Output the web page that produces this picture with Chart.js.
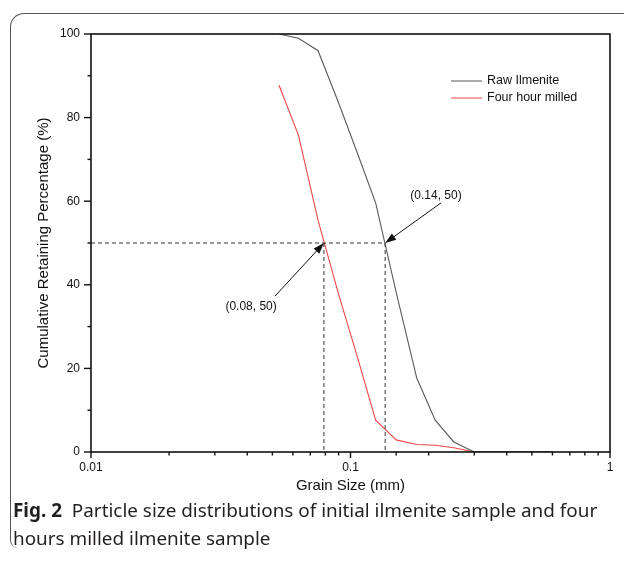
<!DOCTYPE html>
<html>
<head>
<meta charset="utf-8">
<script src="https://cdn.jsdelivr.net/npm/chart.js@4/dist/chart.umd.min.js"></script>
<style>
html, body { margin: 0; padding: 0; background: #fff; width: 624px; height: 561px; overflow: hidden; }
#wrap { position: relative; width: 624px; height: 561px; }
#frame { position: absolute; left: 10px; top: 13px; width: 660px; height: 534px;
         border-left: 1.5px solid #555; border-top: 1.5px solid #555; border-radius: 14px 0 0 8px; }
#chart { position: absolute; left: 0; top: 0; }
#caption { position: absolute; left: 13px; top: 496px; font-family: "Noto Sans", sans-serif;
           font-size: 18.9px; line-height: 28px; color: #231f20; white-space: nowrap; }
#caption b { font-weight: 700; }
</style>
</head>
<body>
<div id="wrap">
  <div id="frame"></div>
  <canvas id="chart" width="624" height="561"></canvas>
  <div id="caption"><b>Fig. 2</b>&nbsp; Particle size distributions of initial ilmenite sample and four<br>hours milled ilmenite sample</div>
</div>
<script>
// sieve openings (mm) and cumulative retained (%)
const sieveSizes = [0.053, 0.063, 0.075, 0.09, 0.106, 0.125, 0.15, 0.18, 0.212, 0.25, 0.3, 0.355, 0.425, 0.5, 0.6];
const rawIlmenite = [100, 99, 96, 83.5, 71.7, 59.6, 38.2, 17.7, 7.6, 2.4, 0, 0, 0, 0, 0];
const fourHourMilled = [87.8, 75.8, 55.4, 37.7, 23, 7.6, 2.9, 1.8, 1.6, 1.0, 0, 0, 0, 0, 0];
const seriesLabels = ["Raw Ilmenite", "Four hour milled"];
const seriesColors = ["#5a5a5a", "#f04848"];

// d50 reference points (grain size, percentage)
const d50Raw = [0.136, 50];
const d50Milled = [0.079, 50];
const d50Labels = ["(0.14, 50)", "(0.08, 50)"];

// axis ticks
const xTickLabels = [0.01, 0.1, 1];
const yTickLabels = [0, 20, 40, 60, 80, 100];

const toPoints = (xs, ys) => xs.map((x, i) => ({x: x, y: ys[i]}));

// dashed guide lines
const guideStyle = { borderColor: "#333", borderWidth: 1, borderDash: [4, 3], pointRadius: 0, showLine: true, fill: false };

/* ------------------------------------- extra marks: frame, ticks, legend, arrows ------------------------------------- */

function drawArrow (ctx, x0, y0, x1, y1) {
    const ang = Math.atan2(y1 - y0, x1 - x0), len = 11, half = 3.8;
    ctx.beginPath(); ctx.moveTo(x0, y0); ctx.lineTo(x1 - Math.cos(ang) * len * 0.8, y1 - Math.sin(ang) * len * 0.8); ctx.stroke();
    ctx.beginPath();
    ctx.moveTo(x1, y1);
    ctx.lineTo(x1 - Math.cos(ang) * len - Math.sin(ang) * half, y1 - Math.sin(ang) * len + Math.cos(ang) * half);
    ctx.lineTo(x1 - Math.cos(ang) * len + Math.sin(ang) * half, y1 - Math.sin(ang) * len - Math.cos(ang) * half);
    ctx.closePath(); ctx.fill(); }

const extraMarks = {
    id: "extraMarks",
    afterDraw (chart) {
        const ctx = chart.ctx, a = chart.chartArea, xs = chart.scales.x, ys = chart.scales.y;
        ctx.save();
        ctx.strokeStyle = "#111"; ctx.fillStyle = "#111"; ctx.lineWidth = 1.6;
        ctx.strokeRect(a.left, a.top, a.right - a.left, a.bottom - a.top);

        // x ticks: majors at decades, minors between
        ctx.lineWidth = 1.4;
        xs.ticks.forEach(t => {
            const px = xs.getPixelForValue(t.value);
            const major = xTickLabels.some(v => Math.abs(v - t.value) < 1e-9);
            ctx.beginPath(); ctx.moveTo(px, a.bottom); ctx.lineTo(px, a.bottom + (major ? 6 : 3.5)); ctx.stroke(); });
        // y ticks
        ys.ticks.forEach(t => {
            const py = ys.getPixelForValue(t.value);
            const major = yTickLabels.includes(t.value);
            ctx.beginPath(); ctx.moveTo(a.left, py); ctx.lineTo(a.left - (major ? 7 : 3.5), py); ctx.stroke(); });

        // legend
        ctx.font = "12.5px 'Liberation Sans', Arial, sans-serif";
        ctx.textBaseline = "middle"; ctx.textAlign = "left";
        seriesLabels.forEach((lab, i) => {
            const ly = a.top + 47 + i * 17, lx = a.right - 159;
            ctx.strokeStyle = seriesColors[i]; ctx.lineWidth = 1;
            ctx.beginPath(); ctx.moveTo(lx, ly); ctx.lineTo(lx + 31, ly); ctx.stroke();
            ctx.fillStyle = "#111"; ctx.fillText(lab, lx + 36, ly); });

        // d50 callouts
        ctx.strokeStyle = "#111"; ctx.fillStyle = "#111"; ctx.lineWidth = 1;
        ctx.font = "12px 'Liberation Sans', Arial, sans-serif"; ctx.textAlign = "center";
        const callouts = [
            {pt: d50Raw, from: [0.2233, 59.6], text: [0.2135, 61.2], label: d50Labels[0]},
            {pt: d50Milled, from: [0.0512, 37.3], text: [0.0414, 34.7], label: d50Labels[1]}];
        callouts.forEach(c => {
            drawArrow(ctx, xs.getPixelForValue(c.from[0]), ys.getPixelForValue(c.from[1]),
                      xs.getPixelForValue(c.pt[0]), ys.getPixelForValue(c.pt[1]));
            ctx.fillText(c.label, xs.getPixelForValue(c.text[0]), ys.getPixelForValue(c.text[1])); });
        ctx.restore(); }
};

/* ------------------------------------------------ chart ------------------------------------------------ */

new Chart("chart", {
    type: "scatter",
    data: {
        datasets: [
            Object.assign({ data: [{x: 0.01, y: d50Raw[1]}, {x: d50Raw[0], y: d50Raw[1]}] }, guideStyle),
            Object.assign({ data: [{x: d50Raw[0], y: d50Raw[1]}, {x: d50Raw[0], y: 0}] }, guideStyle),
            Object.assign({ data: [{x: d50Milled[0], y: d50Milled[1]}, {x: d50Milled[0], y: 0}] }, guideStyle),
            { label: seriesLabels[0], data: toPoints(sieveSizes, rawIlmenite), borderColor: seriesColors[0],
              borderWidth: 1.1, pointRadius: 0, showLine: true, fill: false },
            { label: seriesLabels[1], data: toPoints(sieveSizes, fourHourMilled), borderColor: seriesColors[1],
              borderWidth: 1.1, pointRadius: 0, showLine: true, fill: false }
        ]
    },
    options: {
        responsive: false,
        animation: false,
        events: [],
        layout: { padding: { left: 0, top: 34, right: 14, bottom: 49 } },
        plugins: { legend: { display: false }, tooltip: { enabled: false } },
        scales: {
            x: {
                type: "logarithmic", min: 0.01, max: 1,
                afterFit: s => { s.height = 60; },
                grid: { display: false, drawTicks: false },
                border: { display: false },
                ticks: {
                    autoSkip: false, maxRotation: 0, padding: 8, color: "#111",
                    font: { family: "'Liberation Sans', Arial, sans-serif", size: 12 },
                    callback: v => xTickLabels.some(t => Math.abs(t - v) < 1e-9) ? String(v) : "" },
                title: { display: true, text: "Grain Size (mm)", color: "#111",
                         font: { family: "'Liberation Sans', Arial, sans-serif", size: 15 },
                         padding: { top: 0, bottom: 17 } }
            },
            y: {
                min: 0, max: 100,
                afterFit: s => { s.width = 91; },
                grid: { display: false, drawTicks: false },
                border: { display: false },
                ticks: {
                    stepSize: 10, padding: 11, color: "#111",
                    font: { family: "'Liberation Sans', Arial, sans-serif", size: 12 },
                    callback: v => yTickLabels.includes(v) ? String(v) : "" },
                title: { display: true, text: "Cumulative Retaining Percentage (%)", color: "#111",
                         font: { family: "'Liberation Sans', Arial, sans-serif", size: 15 },
                         padding: { top: 35, bottom: 0 } }
            }
        }
    },
    plugins: [extraMarks]
});
</script>
</body>
</html>
